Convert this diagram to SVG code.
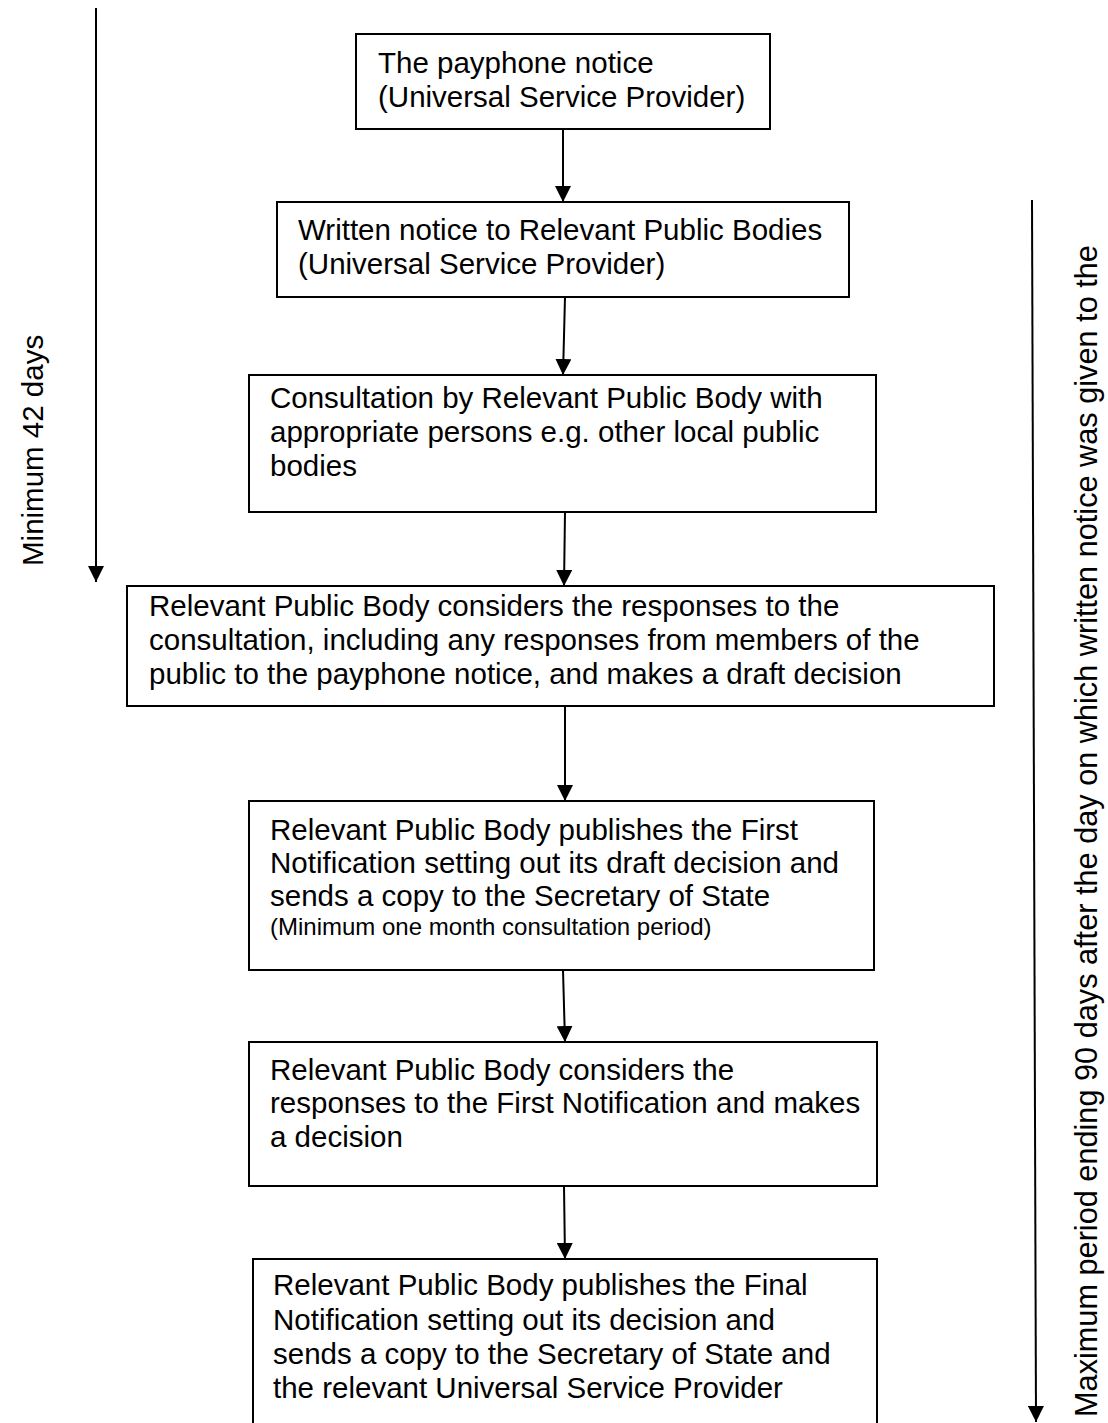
<svg xmlns="http://www.w3.org/2000/svg" width="1108" height="1423" viewBox="0 0 1108 1423">
  <style>
    .box { fill: #ffffff; stroke: #000000; stroke-width: 2; }
    .t { font-family: "Liberation Sans", Arial, sans-serif; font-size: 29.5px; fill: #000000; }
    .s { font-family: "Liberation Sans", Arial, sans-serif; font-size: 24px; fill: #000000; }
    .v { font-family: "Liberation Sans", Arial, sans-serif; font-size: 30.7px; fill: #000000; }
    .c { stroke: #000000; stroke-width: 2; fill: none; marker-end: url(#ah); }
  </style>
  <defs>
    <marker id="ah" viewBox="0 0 16 16" refX="16" refY="8" markerWidth="16" markerHeight="16" markerUnits="userSpaceOnUse" orient="auto">
      <path d="M0,0 L16,8 L0,16 Z" fill="#000000"/>
    </marker>
  </defs>
  <rect width="1108" height="1423" fill="#ffffff"/>

  <g id="connectors">
    <line class="c" x1="563" y1="129" x2="563" y2="202"/>
    <line class="c" x1="565" y1="297" x2="563" y2="375"/>
    <line class="c" x1="565" y1="512" x2="564" y2="586"/>
    <line class="c" x1="565" y1="706" x2="565" y2="801"/>
    <line class="c" x1="563" y1="970" x2="565" y2="1042"/>
    <line class="c" x1="564" y1="1186" x2="565" y2="1259"/>
    <line class="c" x1="96" y1="8" x2="96" y2="582"/>
    <line class="c" x1="1032" y1="200" x2="1036" y2="1422"/>
  </g>

  <g id="label-min42">
    <text class="t" transform="translate(43,566) rotate(-90)">Minimum 42 days</text>
  </g>
  <g id="label-max90">
    <text class="v" transform="translate(1097,1417) rotate(-90)">Maximum period ending 90 days after the day on which written notice was given to the</text>
  </g>

  <g id="node1">
    <rect class="box" x="356" y="34" width="414" height="95"/>
    <text class="t" x="378" y="73">The payphone notice</text>
    <text class="t" x="378" y="107">(Universal Service Provider)</text>
  </g>
  <g id="node2">
    <rect class="box" x="277" y="202" width="572" height="95"/>
    <text class="t" x="298" y="240">Written notice to Relevant Public Bodies</text>
    <text class="t" x="298" y="274">(Universal Service Provider)</text>
  </g>
  <g id="node3">
    <rect class="box" x="249" y="375" width="627" height="137"/>
    <text class="t" x="270" y="408">Consultation by Relevant Public Body with</text>
    <text class="t" x="270" y="442">appropriate persons e.g. other local public</text>
    <text class="t" x="270" y="476">bodies</text>
  </g>
  <g id="node4">
    <rect class="box" x="127" y="586" width="867" height="120"/>
    <text class="t" x="149" y="616">Relevant Public Body considers the responses to the</text>
    <text class="t" x="149" y="650">consultation, including any responses from members of the</text>
    <text class="t" x="149" y="684">public to the payphone notice, and makes a draft decision</text>
  </g>
  <g id="node5">
    <rect class="box" x="249" y="801" width="625" height="169"/>
    <text class="t" x="270" y="840">Relevant Public Body publishes the First</text>
    <text class="t" x="270" y="873">Notification setting out its draft decision and</text>
    <text class="t" x="270" y="906">sends a copy to the Secretary of State</text>
    <text class="s" x="270" y="935">(Minimum one month consultation period)</text>
  </g>
  <g id="node6">
    <rect class="box" x="249" y="1042" width="628" height="144"/>
    <text class="t" x="270" y="1080">Relevant Public Body considers the</text>
    <text class="t" x="270" y="1113">responses to the First Notification and makes</text>
    <text class="t" x="270" y="1147">a decision</text>
  </g>
  <g id="node7">
    <rect class="box" x="253" y="1259" width="624" height="200"/>
    <text class="t" x="273" y="1295">Relevant Public Body publishes the Final</text>
    <text class="t" x="273" y="1330">Notification setting out its decision and</text>
    <text class="t" x="273" y="1364">sends a copy to the Secretary of State and</text>
    <text class="t" x="273" y="1398">the relevant Universal Service Provider</text>
  </g>
</svg>
